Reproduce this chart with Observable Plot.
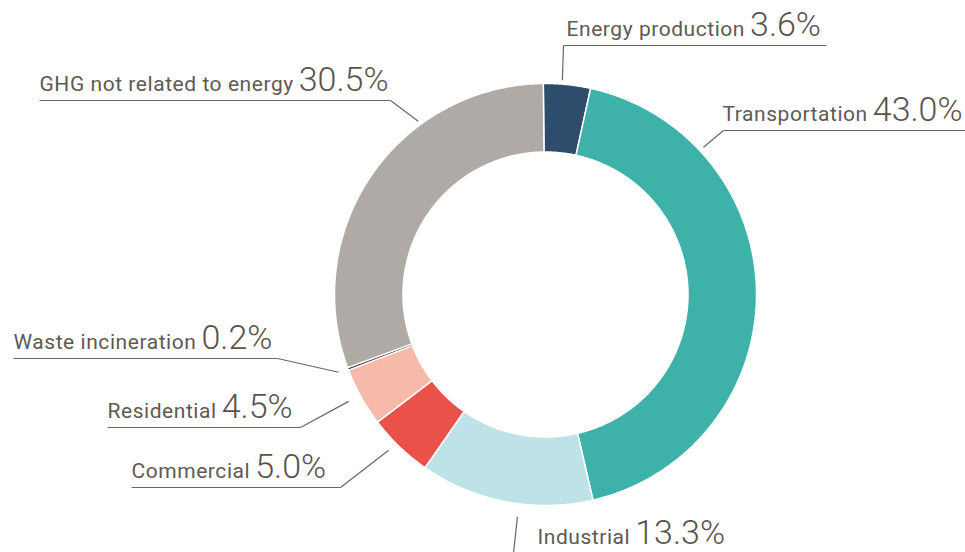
<!DOCTYPE html>
<html>
<head>
<meta charset="utf-8">
<script src="https://cdn.jsdelivr.net/npm/d3@7"></script>
<script src="https://cdn.jsdelivr.net/npm/@observablehq/plot@0.6"></script>
<style>
  html, body { margin: 0; padding: 0; background: #fff; }
  #chart { width: 965px; height: 552px; overflow: hidden; }
  #chart g[font-size="21"] text { letter-spacing: 0.55px; }
</style>
</head>
<body>
<div id="chart"></div>
<script>
// ---- data ----
const categories = ["Energy production", "Transportation", "Industrial", "Commercial", "Residential", "Waste incineration", "GHG not related to energy"];
const shares = [3.6, 43.0, 13.3, 5.0, 4.5, 0.2, 30.5];
const shareLabels = ["3.6%", "43.0%", "13.3%", "5.0%", "4.5%", "0.2%", "30.5%"];
const colors = ["#2e4d6c", "#3eb1a8", "#bde2e8", "#ea5149", "#f7b9aa", "#3b3530", "#b0aaa6"];

// ---- layout (annotation placement) ----
const labelX = [566, 722, 537, 131, 107, 13, 39];          // text start
const labelY = [35, 120, 543, 477, 417, 348, 90];          // text baseline
const underlineX1 = [563, 723, 513, 131, 107, 13, 39];
const underlineX2 = [826, 965, 740, 340, 300, 277, 390];
const leaderFromRight = [false, false, false, true, true, true, true];
const leaderAngle = [4.5, 47, 187.2, 225.2, 241.5, 249.4, -36.3]; // degrees clockwise from 12 o'clock
const leaderRadius = [215, 216, 224, 221, 224, 221, 215];

const W = 965, H = 552;
const cx = 545, cy = 294, outerR = 211, innerR = 142.5;
const startDeg = -0.6;

// ---- slice polygons from d3.pie ----
const pie = d3.pie().sort(null).value(d => d)
  .startAngle(startDeg * Math.PI / 180)
  .endAngle((startDeg + 360) * Math.PI / 180);
const arcs = pie(shares);
const polyPoints = [];
arcs.forEach((a, i) => {
  const n = Math.max(4, Math.ceil((a.endAngle - a.startAngle) / (Math.PI / 360)));
  const pts = [];
  for (let k = 0; k <= n; k++) {
    const t = a.startAngle + (a.endAngle - a.startAngle) * k / n;
    pts.push([cx + outerR * Math.sin(t), cy - outerR * Math.cos(t)]);
  }
  for (let k = n; k >= 0; k--) {
    const t = a.startAngle + (a.endAngle - a.startAngle) * k / n;
    pts.push([cx + innerR * Math.sin(t), cy - innerR * Math.cos(t)]);
  }
  pts.push(pts[0]);
  pts.forEach(([x, y]) => polyPoints.push({cat: categories[i], x, y}));
});

// ---- text measuring ----
const ctx = document.createElement("canvas").getContext("2d");
const nameSize = 21, pctSize = 34, nameSpacing = 0.55;
function measure(text, size, weight) {
  ctx.font = `${weight} ${size}px Roboto`;
  return ctx.measureText(text).width;
}
const labels = categories.map((c, i) => {
  const wName = measure(c, nameSize, 400) + nameSpacing * c.length;
  return {
    name: c,
    pct: shareLabels[i],
    tx: labelX[i],
    ty: labelY[i],
    px: labelX[i] + wName + 5
  };
});
const underlines = categories.map((c, i) => ({
  x1: underlineX1[i], x2: underlineX2[i], y: labelY[i] + 10
}));
const leaders = categories.map((c, i) => {
  const a = leaderAngle[i] * Math.PI / 180;
  return {
    x1: leaderFromRight[i] ? underlineX2[i] : underlineX1[i],
    y1: labelY[i] + 10,
    x2: cx + leaderRadius[i] * Math.sin(a),
    y2: cy - leaderRadius[i] * Math.cos(a)
  };
});

const textColor = "#5b524d";
const lineColor = "#6e6560";

const plot = Plot.plot({
  width: W,
  height: H,
  margin: 0,
  style: {background: "#fff", fontFamily: "Roboto, sans-serif"},
  x: {domain: [0, W], range: [0, W], axis: null},
  y: {domain: [0, H], range: [0, H], axis: null},
  color: {domain: categories, range: colors},
  marks: [
    Plot.line(polyPoints, {
      x: "x", y: "y", z: "cat", fill: "cat",
      stroke: "white", strokeWidth: 1.5, strokeLinejoin: "round", curve: "linear"
    }),
    Plot.link(underlines, {x1: "x1", x2: "x2", y1: "y", y2: "y", stroke: lineColor, strokeWidth: 1.2}),
    Plot.link(leaders, {x1: "x1", y1: "y1", x2: "x2", y2: "y2", stroke: lineColor, strokeWidth: 1.2}),
    Plot.text(labels, {
      x: "tx", y: "ty", text: "name", textAnchor: "start", lineAnchor: "bottom",
      fontSize: nameSize, fontWeight: 400, fill: "#615853", fontFamily: "Roboto"
    }),
    Plot.text(labels, {
      x: "px", y: "ty", text: "pct", textAnchor: "start", lineAnchor: "bottom",
      fontSize: pctSize, fontWeight: 300, fill: textColor, fontFamily: "Roboto"
    })
  ]
});
document.getElementById("chart").appendChild(plot);
</script>
</body>
</html>
